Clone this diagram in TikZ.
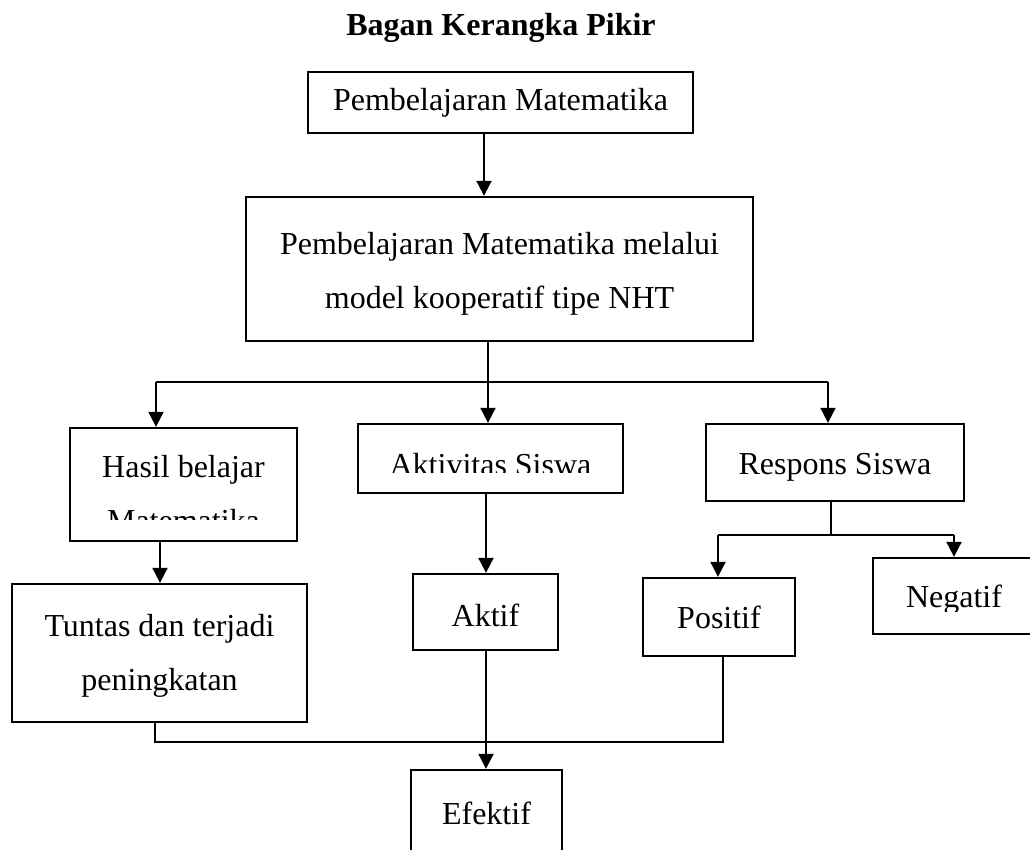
\documentclass[tikz,border=0pt]{standalone}
\usepackage{fontspec}
\setmainfont{Liberation Serif}
\usetikzlibrary{arrows.meta}
\tikzset{
  box/.style={draw, rectangle, line width=1.15pt, inner sep=0pt, align=center, font=\fontsize{16}{27}\selectfont},
  lowbox/.style={box, text height=15pt},
  txt/.style={inner sep=0pt, align=center, font=\fontsize{16}{27}\selectfont},
  arr/.style={-{Triangle[length=7.5pt,width=7.5pt]}, line width=1pt},
  ln/.style={line width=0.65pt},
}
\begin{document}
\begin{tikzpicture}[x=0.5pt, y=-0.5pt]
\useasboundingbox (0,0) rectangle (1030,850);
\node[font=\fontsize{16}{20}\selectfont\bfseries, anchor=base] (title) at (501,36) {Bagan Kerangka Pikir};
\node[box, minimum width=192.5pt, minimum height=30.5pt] (a) at (500.5,102.5) {Pembelajaran Matematika};
\node[box, text height=43pt, minimum width=253.5pt, minimum height=72pt] (b) at (499.5,269) {Pembelajaran Matematika melalui\\model kooperatif tipe NHT};
% second row, text cut off at the inner margin
\begin{scope}
\clip (70,428) rectangle (297,520);
\node[txt] (hasiltxt) at (183.5,494) {Hasil belajar\\Matematika};
\end{scope}
\node[box, minimum width=113.5pt, minimum height=56.5pt] (hasil) at (183.5,484.5) {};
\begin{scope}
\clip (358,424) rectangle (623,473);
\node[txt, anchor=base] (akttxt) at (490.5,476) {Aktivitas Siswa};
\end{scope}
\node[box, minimum width=132.5pt, minimum height=34.5pt] (akt) at (490.5,458.5) {};
\node[lowbox, minimum width=129pt, minimum height=38.5pt] (resp) at (835,462.5) {Respons Siswa};
% third row
\node[box, text height=41pt, minimum width=147.5pt, minimum height=69pt] (tuntas) at (159.5,653) {Tuntas dan terjadi\\peningkatan};
\node[lowbox, minimum width=72.5pt, minimum height=38pt] (aktif) at (485.5,612) {Aktif};
\node[box, minimum width=76pt, minimum height=39pt] (positif) at (719,617) {Positif};
\begin{scope}
\clip (873,558) rectangle (1030,612);
\node[txt, anchor=base] (negtxt) at (954,608) {Negatif};
\end{scope}
\node[box, minimum width=86pt, minimum height=38pt] (negatif) at (959,596) {};
\node[box, minimum width=75.5pt, minimum height=43pt] (efektif) at (486.5,813) {Efektif};
% connector columns
\coordinate (c1) at (484,0);
\coordinate (c2) at (488,0);
\coordinate (c3) at (486,0);
\coordinate (c4) at (160,0);
\coordinate (br1) at (156,382);
\coordinate (br3) at (828,382);
\coordinate (rs) at (831,535);
\coordinate (rs1) at (718,535);
\coordinate (rs2) at (954,535);
\coordinate (j1) at (155,742);
\coordinate (j2) at (723,742);
\draw[arr] (a.south -| c1) -- (b.north -| c1);
\draw[ln] (br1) -- (br3);
\draw[arr] (b.south -| c2) -- (akt.north -| c2);
\draw[arr] (br1) -- (hasil.north -| br1);
\draw[arr] (br3) -- (resp.north -| br3);
\draw[arr] (hasil.south -| c4) -- (tuntas.north -| c4);
\draw[arr] (akt.south -| c3) -- (aktif.north -| c3);
\draw[ln] (resp.south -| rs) -- (rs);
\draw[ln] (rs1) -- (rs2);
\draw[arr] (rs1) -- (positif.north -| rs1);
\draw[arr] (rs2) -- (negatif.north -| rs2);
\draw[ln] (tuntas.south -| j1) -- (j1) -- (j2) -- (positif.south -| j2);
\draw[arr] (aktif.south -| c3) -- (efektif.north -| c3);
\end{tikzpicture}
\end{document}
